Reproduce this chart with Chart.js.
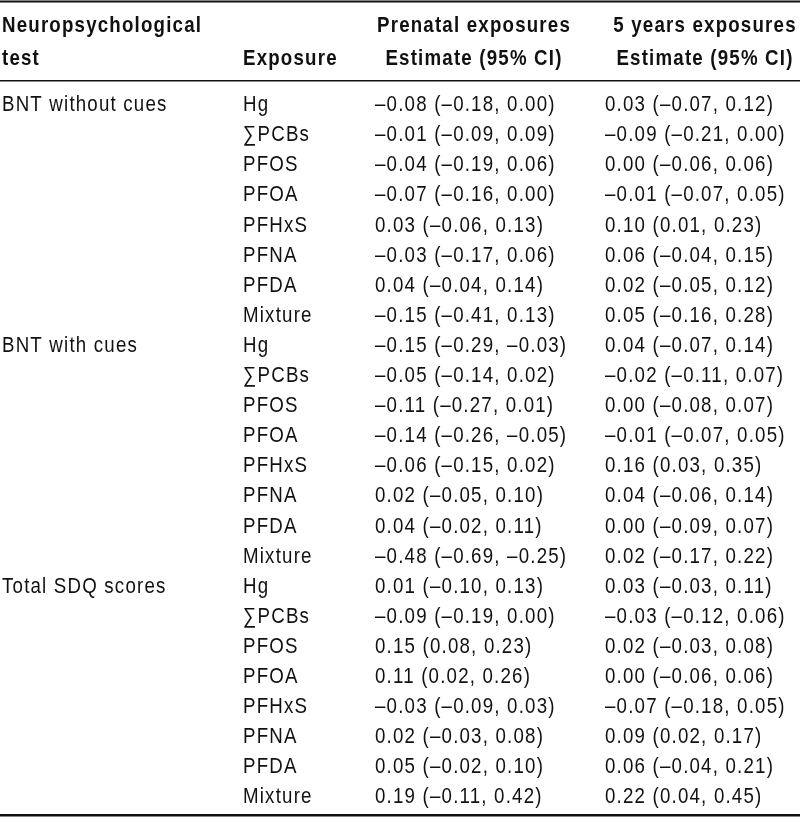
<!DOCTYPE html>
<html lang="en">
<head>
  <meta charset="UTF-8">
  <title>Neuropsychological test estimates</title>
  <script src="https://cdn.jsdelivr.net/npm/chart.js"></script>
  <style>
    body { margin: 0; background: #fff; }
    #wrap { width: 800px; height: 823px; position: relative; }
  </style>
</head>
<body>
  <div id="wrap"><canvas id="tableChart"></canvas></div>
  <script>
    // table data
    const tests = ['BNT without cues', 'BNT with cues', 'Total SDQ scores'];
    const exposures = ['Hg', '∑PCBs', 'PFOS', 'PFOA', 'PFHxS', 'PFNA', 'PFDA', 'Mixture'];

    const prenatalEst = [-0.08, -0.01, -0.04, -0.07, 0.03, -0.03, 0.04, -0.15,
                         -0.15, -0.05, -0.11, -0.14, -0.06, 0.02, 0.04, -0.48,
                          0.01, -0.09, 0.15, 0.11, -0.03, 0.02, 0.05, 0.19];
    const prenatalLow = [-0.18, -0.09, -0.19, -0.16, -0.06, -0.17, -0.04, -0.41,
                         -0.29, -0.14, -0.27, -0.26, -0.15, -0.05, -0.02, -0.69,
                         -0.10, -0.19, 0.08, 0.02, -0.09, -0.03, -0.02, -0.11];
    const prenatalHigh = [0.00, 0.09, 0.06, 0.00, 0.13, 0.06, 0.14, 0.13,
                          -0.03, 0.02, 0.01, -0.05, 0.02, 0.10, 0.11, -0.25,
                          0.13, 0.00, 0.23, 0.26, 0.03, 0.08, 0.10, 0.42];

    const fiveEst = [0.03, -0.09, 0.00, -0.01, 0.10, 0.06, 0.02, 0.05,
                     0.04, -0.02, 0.00, -0.01, 0.16, 0.04, 0.00, 0.02,
                     0.03, -0.03, 0.02, 0.00, -0.07, 0.09, 0.06, 0.22];
    const fiveLow = [-0.07, -0.21, -0.06, -0.07, 0.01, -0.04, -0.05, -0.16,
                     -0.07, -0.11, -0.08, -0.07, 0.03, -0.06, -0.09, -0.17,
                     -0.03, -0.12, -0.03, -0.06, -0.18, 0.02, -0.04, 0.04];
    const fiveHigh = [0.12, 0.00, 0.06, 0.05, 0.23, 0.15, 0.12, 0.28,
                      0.14, 0.07, 0.07, 0.05, 0.35, 0.14, 0.07, 0.22,
                      0.11, 0.06, 0.08, 0.06, 0.05, 0.17, 0.21, 0.45];

    const headTest = ['Neuropsychological', 'test'];
    const headExposure = 'Exposure';
    const headPrenatal = ['Prenatal exposures', 'Estimate (95% CI)'];
    const headFive = ['5 years exposures', 'Estimate (95% CI)'];

    // layout (x in pixels, y in row units)
    const colX = [2, 243, 375, 605];
    const headCenterX = [474, 705];
    const headRows = [-2.62, -1.53];
    const ruleRows = [-3.44, -0.81, 23.59];
    const FONT = '"Liberation Sans", Arial, sans-serif';
    const SX = 0.85; // squeeze to mimic the condensed face

    const fmt = v => v.toFixed(2).replace('-', '–');
    const cell = (e, l, h) => fmt(e) + ' (' + fmt(l) + ', ' + fmt(h) + ')';

    const tablePlugin = {
      id: 'tableText',
      afterDraw(chart) {
        const ctx = chart.ctx;
        const xs = chart.scales.x, ys = chart.scales.y;
        const px = v => xs.getPixelForValue(v);
        const py = v => ys.getPixelForValue(v);
        const text = (t, x, y, align) => {
          ctx.save();
          ctx.textAlign = align || 'left';
          ctx.scale(SX, 1);
          ctx.fillText(t, x / SX, y);
          ctx.restore();
        };
        ctx.save();
        ctx.fillStyle = '#111';
        ctx.textBaseline = 'middle';
        ctx.letterSpacing = '1.4px';

        // header
        ctx.font = 'bold 22px ' + FONT;
        text(headTest[0], px(colX[0]), py(headRows[0]));
        text(headTest[1], px(colX[0]), py(headRows[1]));
        text(headExposure, px(colX[1]), py(headRows[1]));
        headPrenatal.forEach((t, i) => text(t, px(headCenterX[0]), py(headRows[i]), 'center'));
        headFive.forEach((t, i) => text(t, px(headCenterX[1]), py(headRows[i]), 'center'));

        // body
        ctx.font = '22px ' + FONT;
        prenatalEst.forEach((v, r) => {
          const y = py(r);
          if (r % exposures.length === 0) text(tests[r / exposures.length], px(colX[0]), y);
          text(exposures[r % exposures.length], px(colX[1]), y);
          text(cell(v, prenatalLow[r], prenatalHigh[r]), px(colX[2]), y);
          text(cell(fiveEst[r], fiveLow[r], fiveHigh[r]), px(colX[3]), y);
        });

        // rules
        ctx.strokeStyle = '#111';
        [2, 1.5, 2.5].forEach((w, i) => {
          ctx.lineWidth = w;
          ctx.beginPath();
          ctx.moveTo(xs.left, py(ruleRows[i]));
          ctx.lineTo(xs.right, py(ruleRows[i]));
          ctx.stroke();
        });
        ctx.restore();
      }
    };

    new Chart(document.getElementById('tableChart'), {
      type: 'scatter',
      data: {
        datasets: [{
          data: prenatalEst.map((v, r) => ({ x: colX[2], y: r })),
          pointRadius: 0
        }]
      },
      options: {
        responsive: true,
        maintainAspectRatio: false,
        animation: false,
        layout: { padding: 0 },
        plugins: { legend: { display: false }, tooltip: { enabled: false } },
        scales: {
          x: { type: 'linear', min: 0, max: 800, display: false },
          y: { type: 'linear', min: -3.49, max: 23.85, reverse: true, display: false }
        }
      },
      plugins: [tablePlugin]
    });
  </script>
</body>
</html>
